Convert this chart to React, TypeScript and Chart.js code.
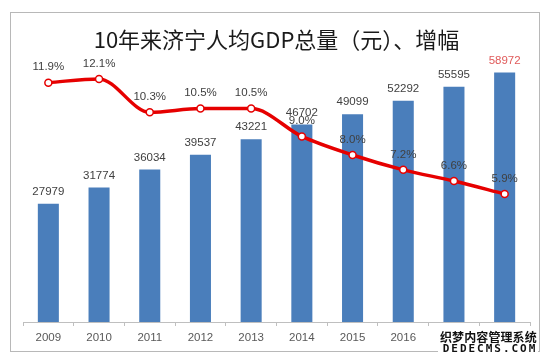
import React, { useEffect, useRef } from 'react';
import { Chart, registerables } from 'chart.js';

Chart.register(...registerables);

const years = ['2009', '2010', '2011', '2012', '2013', '2014', '2015', '2016', '2017', '2018'];
const gdpPerCapita = [27979, 31774, 36034, 39537, 43221, 46702, 49099, 52292, 55595, 58972];
const growthRate = [11.9, 12.1, 10.3, 10.5, 10.5, 9.0, 8.0, 7.2, 6.6, 5.9];
const titleText = '10年来济宁人均GDP总量（元）、增幅';
const watermarkCn = '织梦内容管理系统';
const watermarkEn = 'DEDECMS.COM';

const LABEL_FONT = '11.5px "Liberation Sans", Arial, sans-serif';

const framePlugin = {
  id: 'frame',
  beforeDraw(chart: any) {
    const ctx = chart.ctx;
    ctx.save();
    ctx.fillStyle = '#ffffff';
    ctx.fillRect(0, 0, chart.width, chart.height);
    ctx.strokeStyle = '#b8b8b8';
    ctx.lineWidth = 1;
    ctx.strokeRect(10.5, 12.5, 529, 339);
    ctx.restore();
  },
};

const labelPlugin = {
  id: 'valueLabels',
  afterDatasetsDraw(chart: any) {
    const ctx = chart.ctx;
    ctx.save();
    ctx.font = LABEL_FONT;
    ctx.textAlign = 'center';
    ctx.textBaseline = 'middle';
    const barMeta = chart.getDatasetMeta(0);
    barMeta.data.forEach((el: any, i: number) => {
      ctx.fillStyle = i === gdpPerCapita.length - 1 ? '#e05a5a' : '#404040';
      ctx.fillText(String(gdpPerCapita[i]), el.x, el.y - 12);
    });
    const lineMeta = chart.getDatasetMeta(1);
    ctx.fillStyle = '#404040';
    lineMeta.data.forEach((el: any, i: number) => {
      ctx.fillText(growthRate[i].toFixed(1) + '%', el.x, el.y - 15.5);
    });
    ctx.restore();
  },
};

const watermarkPlugin = {
  id: 'watermark',
  afterDraw(chart: any) {
    const ctx = chart.ctx;
    ctx.save();
    ctx.fillStyle = '#ffffff';
    ctx.fillRect(438, 329, 100, 27);
    ctx.textAlign = 'center';
    ctx.textBaseline = 'middle';
    ctx.fillStyle = '#111111';
    ctx.font = 'bold 12px "Noto Sans CJK SC", sans-serif';
    Array.from(watermarkCn).forEach((ch, i) => {
      ctx.fillText(ch, 446 + i * 12.1, 337);
    });
    ctx.font = 'bold 11px "DejaVu Sans Mono", monospace';
    Array.from(watermarkEn).forEach((ch, i) => {
      ctx.fillText(ch, 446 + i * 8.6, 349);
    });
    ctx.restore();
  },
};

export default function App() {
  const canvasRef = useRef<HTMLCanvasElement | null>(null);

  useEffect(() => {
    if (!canvasRef.current) return;
    const chart = new Chart(canvasRef.current, {
      type: 'bar',
      data: {
        labels: years,
        datasets: [
          {
            type: 'bar',
            label: '人均GDP',
            data: gdpPerCapita,
            backgroundColor: '#4a7ebb',
            yAxisID: 'y',
            order: 2,
            categoryPercentage: 1,
            barPercentage: 0.415,
          },
          {
            type: 'line',
            label: '增幅',
            data: growthRate,
            borderColor: '#e60000',
            borderWidth: 3.5,
            pointRadius: 3.5,
            pointBackgroundColor: '#ffffff',
            pointBorderColor: '#e60000',
            pointBorderWidth: 1.5,
            cubicInterpolationMode: 'monotone',
            yAxisID: 'y2',
            order: 1,
          },
        ] as any,
      },
      options: {
        animation: false,
        responsive: false,
        devicePixelRatio: 1,
        layout: { padding: { left: 23, right: 20, top: 0, bottom: 0 } },
        plugins: {
          legend: { display: false },
          tooltip: { enabled: false },
          title: {
            display: true,
            text: titleText,
            color: '#1a1a1a',
            font: { family: '"Noto Sans CJK SC", sans-serif', size: 22, weight: 'normal' as any },
            padding: { top: 26, bottom: 7.6 },
          },
        },
        scales: {
          x: {
            offset: true,
            grid: {
              offset: true,
              drawOnChartArea: false,
              drawTicks: true,
              tickLength: 4,
              color: '#bfbfbf',
            },
            border: { display: true, color: '#bfbfbf' },
            ticks: {
              color: '#595959',
              font: { family: '"Liberation Sans", Arial, sans-serif', size: 11.5 },
              padding: 5,
            },
            afterFit: (s: any) => {
              s.height = 42;
            },
          },
          y: { display: false, min: 0, max: 61940 },
          y2: { display: false, position: 'right', min: -1.0, max: 13.12 },
        },
      },
      plugins: [framePlugin, labelPlugin, watermarkPlugin],
    });
    return () => chart.destroy();
  }, []);

  return (
    <div style={{ position: 'absolute', left: 0, top: 0, width: 550, height: 364, background: '#fff' }}>
      <canvas ref={canvasRef} width={550} height={364} />
    </div>
  );
}
